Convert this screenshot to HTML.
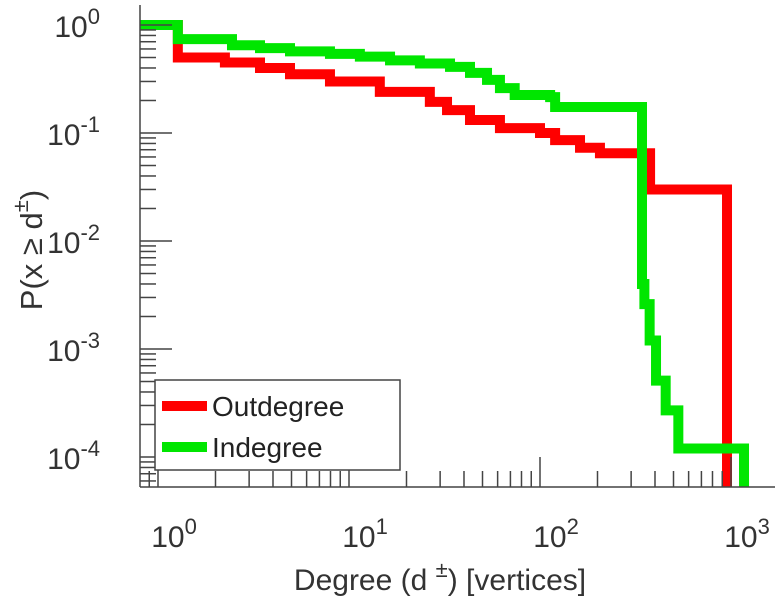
<!DOCTYPE html>
<html><head><meta charset="utf-8"><style>body{margin:0;background:#fff}svg{display:block;font-family:"Liberation Sans",sans-serif}</style></head>
<body>
<svg id="c" width="780" height="600"></svg>
<script>
const xTickExps=[0,1,2,3];
const yTickExps=[0,-1,-2,-3,-4];
const greenDeg=[0.8,1.27,2.44,3.42,4.91,7.95,11.4,16.4,23.5,33.8,43,52.8,61.7,73.7,113,120,342,352,375,405,455,530,575,1170];
const greenP=[1,0.74,0.65,0.61,0.57,0.54,0.51,0.47,0.44,0.41,0.36,0.31,0.26,0.225,0.215,0.174,0.004,0.0026,0.0012,0.00051,0.00027,0.00012,0.00012,0.00003];
const redDeg=[0.8,1.27,2.24,3.42,4.91,7.95,14.5,26.5,32.6,43,61.7,100,120,162,206,377,953];
const redP=[1,0.5,0.45,0.40,0.35,0.30,0.24,0.194,0.163,0.132,0.111,0.1,0.086,0.073,0.065,0.03,0.00003];
const NS='http://www.w3.org/2000/svg',svg=document.getElementById('c');
const L=140,R=775,T=5,B=487;
const X=d=>158+191*Math.log10(d), Y=p=>25-108*Math.log10(p);
function el(t,a,p){const e=document.createElementNS(NS,t);for(const k in a)e.setAttribute(k,a[k]);(p||svg).appendChild(e);return e;}
const defs=el('defs',{});const cp=el('clipPath',{id:'cp'},defs);el('rect',{x:L,y:T,width:R-L,height:B-T},cp);
function stairs(ds,ps,col,name){let d='M'+L+','+Y(ps[0]);for(let i=1;i<ds.length;i++){d+=' H'+X(ds[i])+' V'+Y(ps[i]);}
const e=el('path',{d:d,fill:'none',stroke:col,'stroke-width':10,'clip-path':'url(#cp)'});

}
stairs(redDeg,redP,'#ff0000','outdegree-line');
stairs(greenDeg,greenP,'#00e600','indegree-line');
const ax=el('g',{stroke:'#444','stroke-width':1.5});


el('line',{x1:L,y1:T,x2:L,y2:B},ax);el('line',{x1:L,y1:B,x2:R,y2:B},ax);
xTickExps.forEach(e=>{for(let m=1;m<10;m++){const x=X(m*Math.pow(10,e));if(x<L||x>R)continue;el('line',{x1:x,y1:B,x2:x,y2:B-(m==1?30:16)},ax);}});
[-1].forEach(e=>{for(let m=7;m<10;m++){const x=X(m*Math.pow(10,e));if(x>L)el('line',{x1:x,y1:B,x2:x,y2:B-16},ax);}});
yTickExps.forEach(e=>{for(let m=1;m<10;m++){const y=Y(m*Math.pow(10,e));if(y<T||y>B)continue;el('line',{x1:L,y1:y,x2:L+(m==1?32:16),y2:y},ax);}});
for(let m=5;m<10;m++){const y=Y(m*1e-5);if(y<B)el('line',{x1:L,y1:y,x2:L+16,y2:y},ax);}
function pow(x,y,e,anchor,name){const t=el('text',{x:x,y:y,'font-size':30,fill:'#333','text-anchor':anchor});t.innerHTML='10<tspan dy="-13" font-size="22">'+e+'</tspan>';

}
xTickExps.forEach(e=>pow(X(Math.pow(10,e))+16,547,e,'middle','x-tick-label'));
yTickExps.forEach(e=>pow(100,Y(Math.pow(10,e))+12,e,'end','y-tick-label'));
const xl=el('text',{x:440,y:590,'font-size':30,fill:'#333','text-anchor':'middle'});xl.innerHTML='Degree (d <tspan dy="-13" font-size="22">±</tspan><tspan dy="13">) [vertices]</tspan>';


const yl=el('text',{x:0,y:0,'font-size':31,fill:'#333','text-anchor':'middle',transform:'translate(42,250) rotate(-90)'});yl.innerHTML='P(x ≥ d<tspan dy="-14" font-size="22">±</tspan><tspan dy="14">)</tspan>';


const lg=el('g',{});


el('rect',{x:155,y:380,width:245,height:90,fill:'#fff',stroke:'#444','stroke-width':1.5},lg);
el('line',{x1:162,y1:406,x2:207,y2:406,stroke:'#ff0000','stroke-width':10},lg);
el('line',{x1:162,y1:447,x2:207,y2:447,stroke:'#00e600','stroke-width':10},lg);
const t1=el('text',{x:212,y:416,'font-size':28,fill:'#222'},lg);t1.textContent='Outdegree';


const t2=el('text',{x:212,y:457,'font-size':28,fill:'#222'},lg);t2.textContent='Indegree';


</script>
</body></html>
